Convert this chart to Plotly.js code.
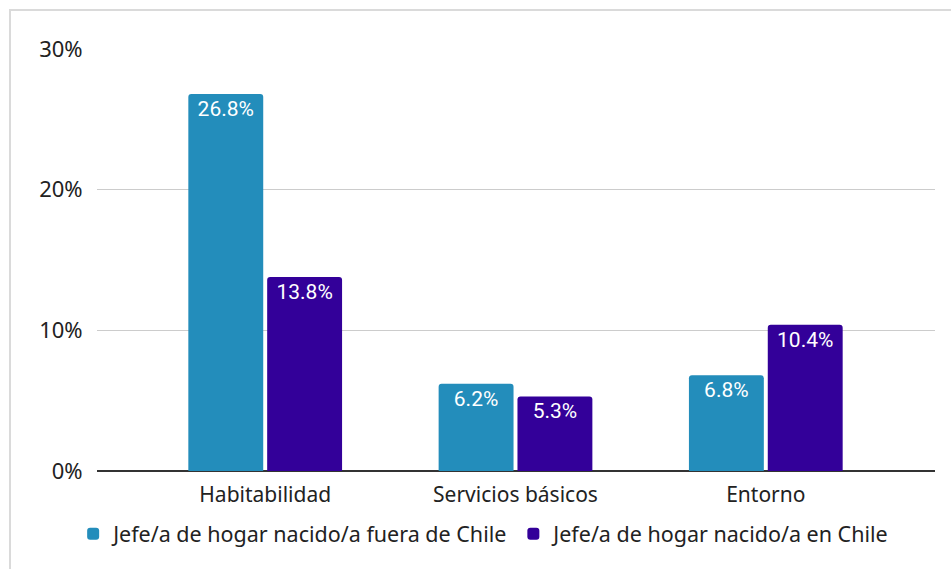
<!DOCTYPE html>
<html>
<head>
<meta charset="utf-8">
<script src="https://cdn.plot.ly/plotly-3.0.1.min.js"></script>
<style>
html,body{margin:0;padding:0;background:#fff;}
#wrap{position:relative;width:951px;height:569px;overflow:hidden;}
#chart{position:absolute;left:0;top:0;width:951px;height:569px;}
#frame{position:absolute;left:9px;top:9px;width:960px;height:600px;border-left:2px solid #dadada;border-top:2px solid #dadada;pointer-events:none;}
</style>
</head>
<body>
<div id="wrap">
<div id="chart"></div>
<div id="frame"></div>
</div>
<script>
const categories = ["Habitabilidad", "Servicios básicos", "Entorno"];
const seriesNames = ["Jefe/a de hogar nacido/a fuera de Chile", "Jefe/a de hogar nacido/a en Chile"];
const fueraDeChile = [26.8, 6.2, 6.8];
const enChile = [13.8, 5.3, 10.4];
const yTickVals = [0, 10, 20, 30];
const yTickText = ["0%", "10%", "20%", "30%"];
const colors = ["#238dbb", "#330099"];

const fmt = v => v.toFixed(1) + "%";
const labelFont = {family: "Roboto, sans-serif", size: 21, color: "#ffffff"};

const traces = [fueraDeChile, enChile].map((vals, i) => ({
  type: "bar",
  name: seriesNames[i],
  x: categories,
  y: vals,
  text: vals.map(fmt),
  textposition: "inside",
  insidetextanchor: "end",
  textangle: 0,
  insidetextfont: labelFont,
  textfont: labelFont,
  marker: {color: colors[i], cornerradius: 3},
  hoverinfo: "none"
}));

const layout = {
  width: 951, height: 569,
  margin: {l: 97, r: 16, t: 49, b: 98},
  paper_bgcolor: "#ffffff",
  plot_bgcolor: "#ffffff",
  barmode: "group",
  bargap: 0.37,
  bargroupgap: 0.05,
  showlegend: true,
  legend: {
    orientation: "h", x: 0.462, xanchor: "center", y: -0.1, yanchor: "top",
    font: {family: "Noto Sans, sans-serif", size: 21.5, color: "#222222"},
    itemwidth: 30, traceorder: "normal"
  },
  xaxis: {
    type: "category",
    range: [-0.672, 2.676],
    showgrid: false, zeroline: false, showline: false,
    ticks: "outside", ticklen: 5, tickcolor: "rgba(0,0,0,0)",
    tickfont: {family: "Noto Sans, sans-serif", size: 21, color: "#222222"},
    fixedrange: true
  },
  yaxis: {
    range: [0, 30],
    tickvals: yTickVals, ticktext: yTickText,
    showgrid: true, gridcolor: "#cccccc", gridwidth: 1,
    zeroline: true, zerolinecolor: "#333333", zerolinewidth: 1.5,
    ticks: "outside", ticklen: 9, tickcolor: "rgba(0,0,0,0)",
    tickfont: {family: "Noto Sans, sans-serif", size: 22, color: "#222222"},
    fixedrange: true
  }
};

Plotly.newPlot("chart", traces, layout, {displayModeBar: false, staticPlot: true});
</script>
</body>
</html>
